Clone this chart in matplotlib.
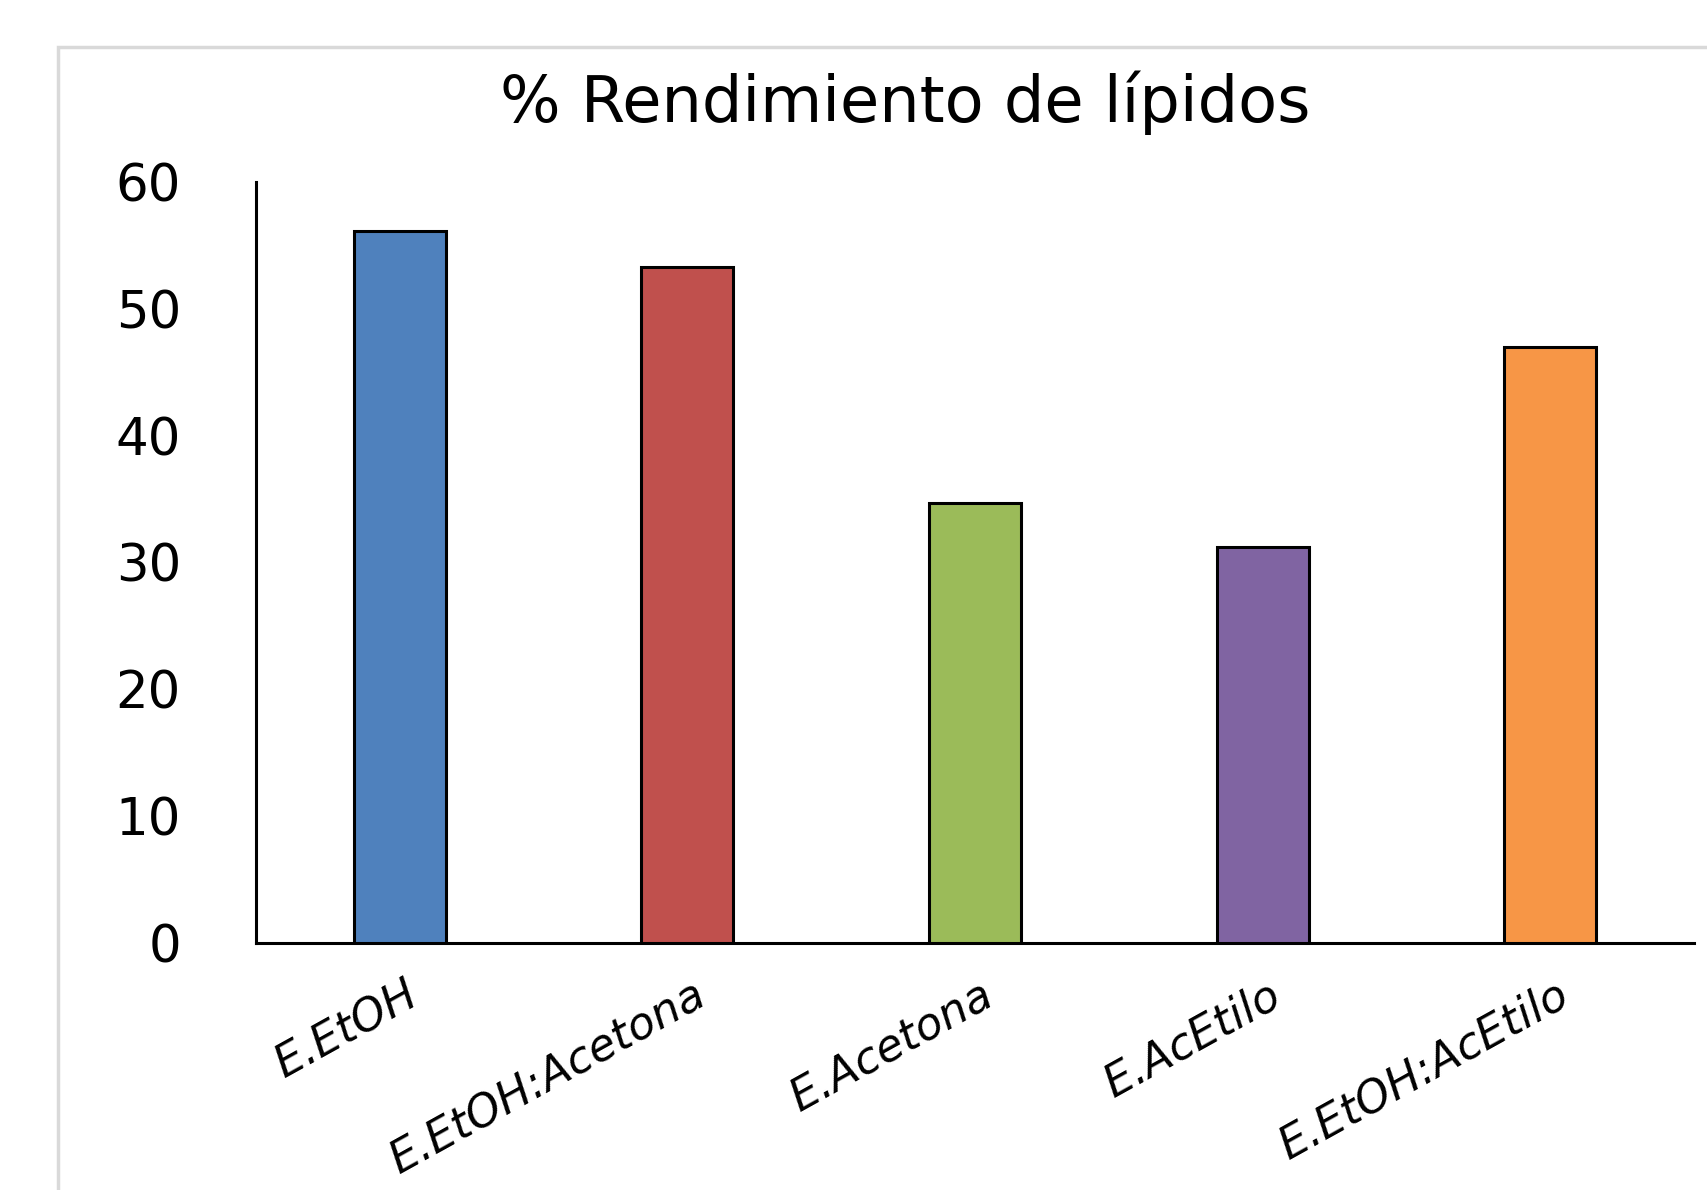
import matplotlib
matplotlib.use("Agg")
import matplotlib.pyplot as plt
from matplotlib.patches import Rectangle
from matplotlib.transforms import offset_copy

# Data
categories = ["E.EtOH", "E.EtOH:Acetona", "E.Acetona", "E.AcEtilo", "E.EtOH:AcEtilo"]
rendimiento = [56.1, 53.3, 34.7, 31.2, 47.0]
bar_colors = ["#4F81BD", "#C0504D", "#9BBB59", "#8064A2", "#F79646"]
y_ticks = [0, 10, 20, 30, 40, 50, 60]

plt.rcParams["font.family"] = ["DejaVu Sans"]

fig = plt.figure(figsize=(17.08, 11.90), dpi=100)
fig.patch.set_facecolor("white")

# Light grey chart-area border
fig.patches.append(Rectangle((58 / 1708, -0.05), 1.2, 1 - 47 / 1190 + 0.05,
                             transform=fig.transFigure, fill=False,
                             edgecolor="#d9d9d9", linewidth=2.5, zorder=0))

ax = fig.add_axes([256 / 1708, 247 / 1190, (1694 - 256) / 1708, (943 - 182) / 1190])
x = range(len(categories))
ax.bar(x, rendimiento, width=0.32, color=bar_colors, edgecolor="black",
       linewidth=2.2, zorder=3)

ax.set_xlim(-0.5, 4.5)
ax.set_ylim(0, 60)
ax.set_yticks(y_ticks)
ax.set_yticklabels([str(t) for t in y_ticks], fontsize=37)
ax.tick_params(axis="y", length=0, pad=54)
ax.tick_params(axis="x", length=0, pad=0)

ax.set_xticks(list(x))
ax.set_xticklabels([])
for i, name in enumerate(categories):
    tr = offset_copy(ax.get_xaxis_transform(), fig=fig, x=5, y=-30, units="dots")
    ax.text(i, 0, name, transform=tr, rotation=29, rotation_mode="anchor",
            ha="right", va="top", fontsize=32, style="italic")

for side in ("top", "right"):
    ax.spines[side].set_visible(False)
for side in ("left", "bottom"):
    ax.spines[side].set_linewidth(2.2)
    ax.spines[side].set_color("black")

fig.text(905 / 1708, 1 - 103 / 1190, "% Rendimiento de lípidos",
         ha="center", va="center", fontsize=46)

fig.savefig("out.png", dpi=100, facecolor="white")
